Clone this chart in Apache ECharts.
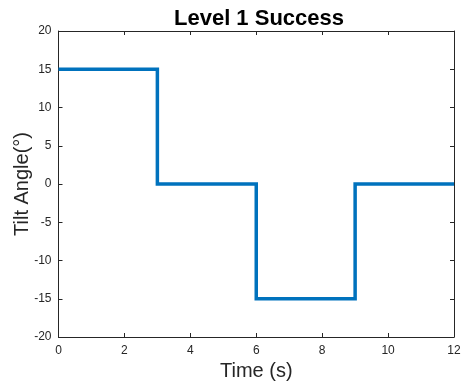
<!DOCTYPE html>
<html><head><meta charset="utf-8">
<script src="https://cdn.jsdelivr.net/npm/echarts@6/dist/echarts.min.js"></script>
<style>html,body{margin:0;padding:0;background:#fff}#c{width:461px;height:383px}</style>
</head><body><div id="c"></div>
<script>
const times = [0, 3, 3, 6, 6, 9, 9, 12];
const angles = [15, 15, 0, 0, -15, -15, 0, 0];
const xTicks = [0, 2, 4, 6, 8, 10, 12];
const yTicks = [-20, -15, -10, -5, 0, 5, 10, 15, 20];
const titleText = 'Level 1 Success';
const xName = 'Time (s)';
const yName = 'Tilt Angle(°)';

const font = 'Liberation Sans, Arial, Helvetica, sans-serif';
const axisCol = '#262626';
const chart = echarts.init(document.getElementById('c'));
const baseAxis = {
  axisLine: {show: true, onZero: false, lineStyle: {color: axisCol, width: 1}},
  axisTick: {show: true, inside: true, length: 4, lineStyle: {color: axisCol}},
  splitLine: {show: false}
};
chart.setOption({
  animation: false,
  title: {text: titleText, left: 254, top: 3, textAlign: 'center',
    textStyle: {fontFamily: font, fontSize: 22, fontWeight: 'bold', color: '#000'}},
  grid: {left: 58.5, right: 7, top: 31, bottom: 46, containLabel: false, outerBoundsMode: 'none'},
  xAxis: [
    Object.assign({}, baseAxis, {type: 'value', position: 'bottom', min: xTicks[0], max: xTicks[xTicks.length-1], interval: 2,
      name: xName, nameLocation: 'middle', nameGap: 24, nameMoveOverlap: false,
      nameTextStyle: {fontFamily: font, fontSize: 20, color: axisCol},
      axisLabel: {fontFamily: font, fontSize: 12, color: axisCol, margin: 8}}),
    Object.assign({}, baseAxis, {type: 'value', position: 'top', min: xTicks[0], max: xTicks[xTicks.length-1], interval: 2,
      axisLabel: {show: false}})
  ],
  yAxis: [
    Object.assign({}, baseAxis, {type: 'value', position: 'left', min: yTicks[0], max: yTicks[yTicks.length-1], interval: 5,
      name: yName, nameLocation: 'middle', nameGap: 26, nameMoveOverlap: false,
      nameTextStyle: {fontFamily: font, fontSize: 20, color: axisCol},
      axisLabel: {fontFamily: font, fontSize: 12, color: axisCol, margin: 7}}),
    Object.assign({}, baseAxis, {type: 'value', position: 'right', min: yTicks[0], max: yTicks[yTicks.length-1], interval: 5,
      axisLabel: {show: false}})
  ],
  series: [{
    type: 'line', xAxisIndex: 0, yAxisIndex: 0,
    data: times.map((t, i) => [t, angles[i]]),
    showSymbol: false, symbol: 'none',
    lineStyle: {color: '#0072BD', width: 3.5, join: 'miter'},
    clip: true
  }]
});
</script></body></html>
